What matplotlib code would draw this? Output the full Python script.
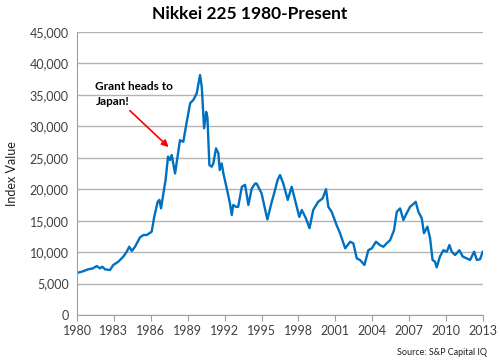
import matplotlib
matplotlib.use("Agg")
import matplotlib.pyplot as plt
from matplotlib.ticker import FuncFormatter

years = [1980.0, 1980.38, 1980.9, 1981.3, 1981.6, 1981.87, 1982.06, 1982.28, 1982.68, 1982.95,
         1983.36, 1983.76, 1984.04, 1984.25, 1984.45, 1984.72, 1985.12, 1985.4, 1985.67, 1986.07,
         1986.28, 1986.56, 1986.7, 1986.83, 1987.0, 1987.2, 1987.4, 1987.56, 1987.7, 1987.97,
         1988.37, 1988.64, 1988.9, 1989.2, 1989.46, 1989.73, 1990.0, 1990.14, 1990.33, 1990.5,
         1990.6, 1990.76, 1990.95, 1991.08, 1991.3, 1991.49, 1991.6, 1991.76, 1991.9, 1992.2,
         1992.43, 1992.58, 1992.7, 1992.93, 1993.1, 1993.4, 1993.66, 1993.93, 1994.2, 1994.47,
         1994.6, 1995.0, 1995.47, 1995.83, 1996.1, 1996.3, 1996.5, 1996.77, 1997.13, 1997.45,
         1997.72, 1998.07, 1998.27, 1998.6, 1998.9, 1999.2, 1999.6, 1999.97, 2000.24, 2000.43,
         2000.7, 2001.1, 2001.38, 2001.8, 2002.2, 2002.46, 2002.74, 2003.0, 2003.36, 2003.68,
         2003.96, 2004.3, 2004.63, 2004.9, 2005.17, 2005.45, 2005.77, 2005.99, 2006.26, 2006.53,
         2006.8, 2007.07, 2007.34, 2007.53, 2007.75, 2008.02, 2008.2, 2008.48, 2008.7, 2008.9,
         2009.1, 2009.24, 2009.5, 2009.78, 2010.06, 2010.27, 2010.46, 2010.73, 2011.08, 2011.35,
         2011.68, 2011.95, 2012.28, 2012.5, 2012.76, 2012.98]
values = [6700, 6880, 7260, 7420, 7790, 7420, 7680, 7260, 7150, 7950,
          8480, 9270, 10060, 10860, 10180, 10860, 12350, 12720, 12720, 13250,
          15630, 18020, 18300, 16960, 19080, 21470, 25200, 24650, 25440, 22500,
          27800, 27550, 30500, 33700, 34200, 35250, 38160, 36300, 29700, 32300,
          31500, 23850, 23580, 24100, 26500, 25700, 23050, 24100, 22500, 19900,
          17750, 15900, 17500, 17200, 17200, 20400, 20700, 17500, 20100, 20900,
          20900, 19350, 15200, 18000, 19900, 21450, 22260, 20900, 18300, 20400,
          18300, 15600, 16700, 15400, 13800, 16700, 18000, 18550, 20000, 17200,
          16400, 14300, 13000, 10600, 11650, 11400, 9000, 8750, 7950, 10300,
          10600, 11650, 11100, 10850, 11400, 11900, 13500, 16400, 16950, 15100,
          16200, 17200, 17650, 18000, 16400, 15400, 13000, 14050, 12200, 8750,
          8480, 7580, 9300, 10300, 10060, 11130, 10060, 9540, 10300, 9300,
          9000, 8750, 10060, 8750, 8860, 10060]

x_ticks = list(range(1980, 2014, 3))
y_ticks = list(range(0, 45001, 5000))

plt.rcParams['font.family'] = ['Lato', 'DejaVu Sans']

fig = plt.figure(figsize=(5, 3.6), dpi=100)
ax = fig.add_axes([0.154, 0.125, 0.812, 0.786])

ax.plot(years, values, color='#0070C0', lw=1.7, solid_joinstyle='round')

ax.set_xlim(1980, 2013)
ax.set_ylim(0, 45000)
ax.set_xticks(x_ticks)
ax.set_yticks(y_ticks)
ax.yaxis.set_major_formatter(FuncFormatter(lambda v, p: f"{int(v):,}"))
ax.grid(axis='y', color='#b4b4b4', lw=1)
ax.set_axisbelow(True)
for s in ['top', 'right']:
    ax.spines[s].set_visible(False)
for s in ['left', 'bottom']:
    ax.spines[s].set_color('#a0a0a0')
ax.tick_params(axis='y', length=0, labelsize=9, colors='#404040', pad=6)
ax.tick_params(axis='x', length=4, color='#a0a0a0', labelsize=9, labelcolor='#404040', pad=3)
ax.set_ylabel('Index Value', fontsize=9, color='#202020', labelpad=8)

fig.text(0.5, 0.962, 'Nikkei 225 1980-Present', ha='center', va='center',
         fontsize=12.5, fontweight='bold', color='#000000')
fig.text(0.974, 0.022, 'Source: S&P Capital IQ', ha='right', va='center',
         fontsize=6.5, color='#202020')

ax.text(1981.5, 35100, 'Grant heads to\nJapan!', fontsize=8.5, fontweight='bold',
        ha='left', va='center', linespacing=1.45)
ax.annotate('', xy=(1987.45, 26700), xytext=(1984.3, 32500),
            arrowprops=dict(arrowstyle='-|>', color='#ff0000', lw=1.2,
                            shrinkA=0, shrinkB=0, mutation_scale=10))

fig.savefig('out.png', dpi=100)
